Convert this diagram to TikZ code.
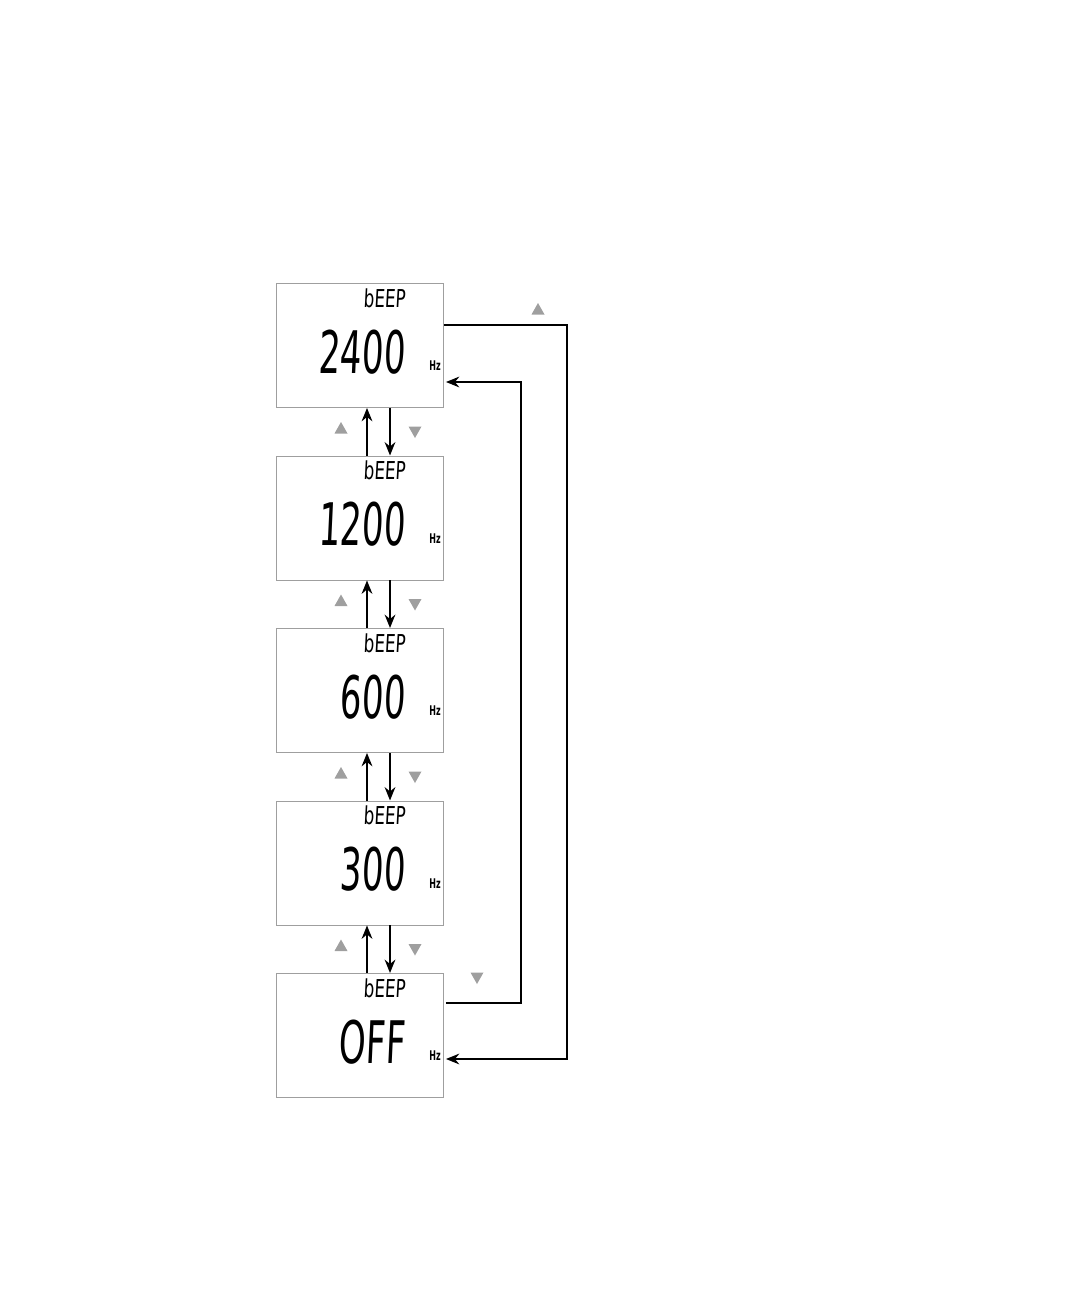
\documentclass[tikz,border=0pt]{standalone}
\usepackage{fontspec}
\setmainfont{DejaVu Sans}
\usetikzlibrary{arrows.meta}
\begin{document}
\begin{tikzpicture}[x=0.75pt,y=-0.75pt,
  screen/.style={draw=gray!75,line width=0.7pt,minimum width=125.25pt,minimum height=93pt,anchor=north west,inner sep=0pt},
  big/.style={anchor=east,font=\fontsize{44}{44}\selectfont,xscale=0.58,xslant=0.08,inner sep=0pt},
  small/.style={anchor=east,font=\fontsize{18.5}{18.5}\selectfont,xscale=0.68,xslant=0.08,inner sep=0pt},
  unit/.style={font=\bfseries\fontsize{10}{10}\selectfont,xscale=0.6,inner sep=0pt},
  conn/.style={line width=1.6pt,-{Stealth[length=10pt,width=8pt]}},
  loop/.style={line width=1.6pt,-{Stealth[length=10pt,width=8pt]}},
  keytri/.style={fill=gray!75}
]
\useasboundingbox (0,0) rectangle (1080,1296);
\newcommand\uptri[2]{\fill[keytri] (#1-6.5,#2+5.5) -- (#1+6.5,#2+5.5) -- (#1,#2-6) -- cycle;}
\newcommand\dntri[2]{\fill[keytri] (#1-6.5,#2-5.5) -- (#1+6.5,#2-5.5) -- (#1,#2+6) -- cycle;}

% screens
\foreach \i/\y/\val in {1/283/2400,2/455.5/1200,3/628/600,4/800.5/300,5/973/OFF}{
  \node[screen] (s\i) at (276,\y) {};
  \node[small] (t\i) at (406,\y+15) {bEEP};
  \node[big] (v\i) at (406,\y+69) {\val};
  \node[unit] (u\i) at (435,\y+83) {Hz};
}

% up/down arrows between screens
\foreach \a/\b in {1/2,2/3,3/4,4/5}{
  \draw[conn] (s\b.north -| 367,0) -- (s\a.south -| 367,0);
  \draw[conn] (s\a.south -| 390,0) -- (s\b.north -| 390,0);
}
\foreach \y in {428,600.5,773,945.5}{
  \uptri{341}{\y}
  \dntri{415}{\y+4}
}

% wrap-around connectors
\coordinate (o1) at (567,325);
\coordinate (o2) at (567,1059);
\draw[loop] (s1.east |- o1) -- (o1) -- (o2) -- ([xshift=1.5pt]s5.east |- o2);
\coordinate (i1) at (521,1003);
\coordinate (i2) at (521,382);
\draw[loop] ([xshift=1.5pt]s5.east |- i1) -- (i1) -- (i2) -- ([xshift=1.5pt]s1.east |- i2);
\uptri{538}{309}
\dntri{477}{978}
\end{tikzpicture}
\end{document}
